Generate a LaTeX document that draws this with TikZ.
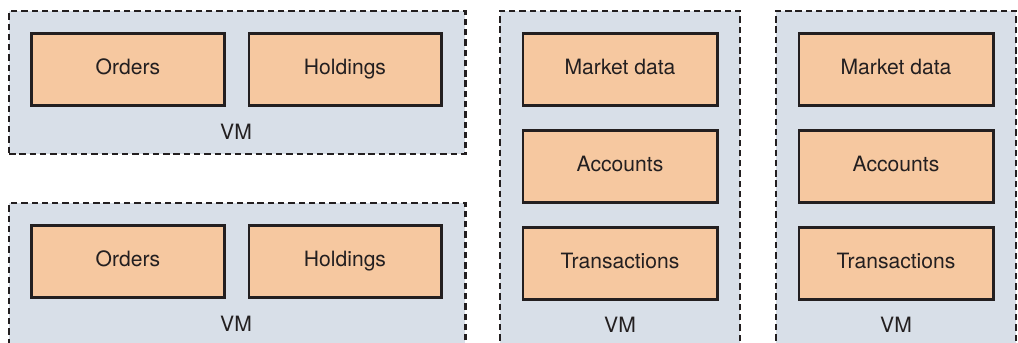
\documentclass[tikz,border=0pt]{standalone}
\usepackage{fontspec}
\setmainfont{TeX Gyre Heros}
\usetikzlibrary{positioning}
\definecolor{vmblue}{RGB}{216,223,232}
\definecolor{svcorange}{RGB}{246,200,160}
\definecolor{inkdark}{RGB}{35,31,32}

\begin{document}
\begin{tikzpicture}[x=0.025cm,y=-0.025cm,
    vm/.style={draw=inkdark,fill=vmblue,line width=1.7pt,dash pattern=on 4.5pt off 2.8pt,inner sep=0pt},
    svc/.style={draw=inkdark,fill=svcorange,line width=2.1pt,minimum width=4.8cm,minimum height=1.8cm,
      text height=10.8pt,text depth=3pt,text=inkdark,font=\fontsize{15}{18}\selectfont},
    vmlabel/.style={text=inkdark,font=\fontsize{15}{18}\selectfont}]
  \useasboundingbox (0,0) rectangle (1018,342);
  \clip (0,0) rectangle (1018,342);
  % left column: VMs with orders and holdings
  \foreach \y/\n in {10/a,202/b}
  {
    \node[vm,anchor=north west,minimum width=11.4cm,minimum height=3.575cm] (vm\n) at (8,\y) {};
    \node[svc] (\n-ord) at (128,\y+59.5) {Orders};
    \node[svc,right=0.55cm of \n-ord] (\n-hold) {Holdings};
    \node[vmlabel] (\n-lbl) at (236,\y+122) {VM};
  }
  % right columns: VMs with market data, accounts, transactions
  \foreach \x/\n in {620/c,896/d}
  {
    \node[vm,anchor=north,minimum width=6cm,minimum height=8.4cm] (vm\n) at (\x,10) {};
    \node[svc,minimum width=4.85cm] (\n-mkt) at (\x,69.5) {Market data};
    \node[svc,minimum width=4.85cm,below=0.55cm of \n-mkt] (\n-acct) {Accounts};
    \node[svc,minimum width=4.85cm,below=0.55cm of \n-acct] (\n-txn) {Transactions};
    \node[vmlabel] (\n-lbl) at (\x,325) {VM};
  }
\end{tikzpicture}
\end{document}
